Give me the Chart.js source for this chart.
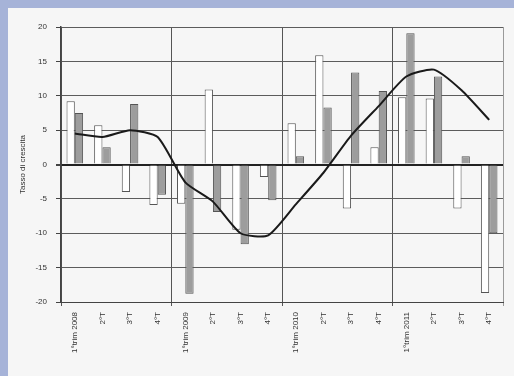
<!DOCTYPE html>
<html>
<head>
<meta charset="utf-8">
<script src="https://cdn.jsdelivr.net/npm/chart.js@4/dist/chart.umd.min.js"></script>
<style>
  html, body { margin: 0; padding: 0; }
  body { width: 514px; height: 376px; background: #a6b3d8; position: relative; overflow: hidden; }
  #panel { position: absolute; left: 8px; top: 8px; width: 506px; height: 368px; background: #f6f6f6; }
  canvas { display: block; }
</style>
</head>
<body>
<div id="panel"><canvas id="chart" width="506" height="368"></canvas></div>
<script>
// Quarterly growth rates, 2008-2011
const quarters = [
  "1°trim 2008", "2°T", "3°T", "4°T",
  "1°trim 2009", "2°T", "3°T", "4°T",
  "1°trim 2010", "2°T", "3°T", "4°T",
  "1°trim 2011", "2°T", "3°T", "4°T"
];
const seriesA = [9.2, 5.7, -4.0, -5.9, -5.7, 10.9, -9.5, -1.8, 6.0, 15.9, -6.4, 2.5, 9.8, 9.6, -6.4, -18.7];
const seriesB = [7.5, 2.5, 8.8, -4.4, -18.8, -6.9, -11.6, -5.2, 1.2, 8.3, 13.4, 10.7, 19.1, 12.8, 1.2, -10.0];
const trend   = [4.5, 4.0, 5.0, 4.0, -2.6, -5.4, -10.0, -10.3, -5.8, -1.2, 4.2, 8.5, 12.8, 13.8, 10.8, 6.5];
const yTicks  = [20, 15, 10, 5, 0, -5, -10, -15, -20];
const yTitle  = "Tasso di crescita";

const labelFont = { family: "Liberation Sans, Arial, sans-serif", size: 8 };

new Chart(document.getElementById("chart"), {
  data: {
    labels: quarters,
    datasets: [
      {
        type: "line",
        data: trend,
        borderColor: "#1a1a1a",
        borderWidth: 2,
        pointRadius: 0,
        tension: 0.2,
        fill: false,
        order: 0
      },
      {
        type: "bar",
        data: seriesA,
        backgroundColor: "#ffffff",
        borderColor: "#555555",
        borderWidth: 1,
        categoryPercentage: 0.6,
        barPercentage: 1.0,
        order: 1
      },
      {
        type: "bar",
        data: seriesB,
        backgroundColor: "#9d9d9d",
        borderColor: "#555555",
        borderWidth: 1,
        categoryPercentage: 0.6,
        barPercentage: 1.0,
        order: 1
      }
    ]
  },
  options: {
    responsive: false,
    animation: false,
    devicePixelRatio: 1,
    layout: { padding: { top: 19, right: 11, left: 0, bottom: 0 } },
    plugins: { legend: { display: false }, tooltip: { enabled: false } },
    scales: {
      x: {
        grid: {
          offset: true,
          drawTicks: true,
          tickLength: 4,
          color: ctx => (ctx.index === undefined) ? "#9a9a9a" : (ctx.index % 4 === 0 ? "#555555" : "rgba(0,0,0,0)"),
          lineWidth: 1
        },
        border: { display: true, color: "#444444", width: 1 },
        ticks: {
          autoSkip: false,
          minRotation: 90,
          maxRotation: 90,
          padding: 6,
          color: "#333333",
          font: labelFont
        },
        afterFit: s => { s.height = 74; }
      },
      y: {
        min: -20,
        max: 20,
        afterBuildTicks: s => { s.ticks = yTicks.map(v => ({ value: v })); },
        grid: {
          color: ctx => ctx.tick && ctx.tick.value === 0 ? "#222222" : "#5c5c5c",
          lineWidth: ctx => ctx.tick && ctx.tick.value === 0 ? 2 : 1,
          tickColor: "#444444",
          tickLength: 5,
          drawTicks: true
        },
        border: { display: true, color: "#444444", width: 1.5 },
        ticks: {
          padding: 9,
          color: "#333333",
          font: labelFont
        },
        title: {
          display: true,
          text: yTitle,
          color: "#333333",
          font: labelFont,
          padding: { top: 10, bottom: 0 }
        },
        afterFit: s => { s.width = 53; }
      }
    }
  }
});
</script>
</body>
</html>
